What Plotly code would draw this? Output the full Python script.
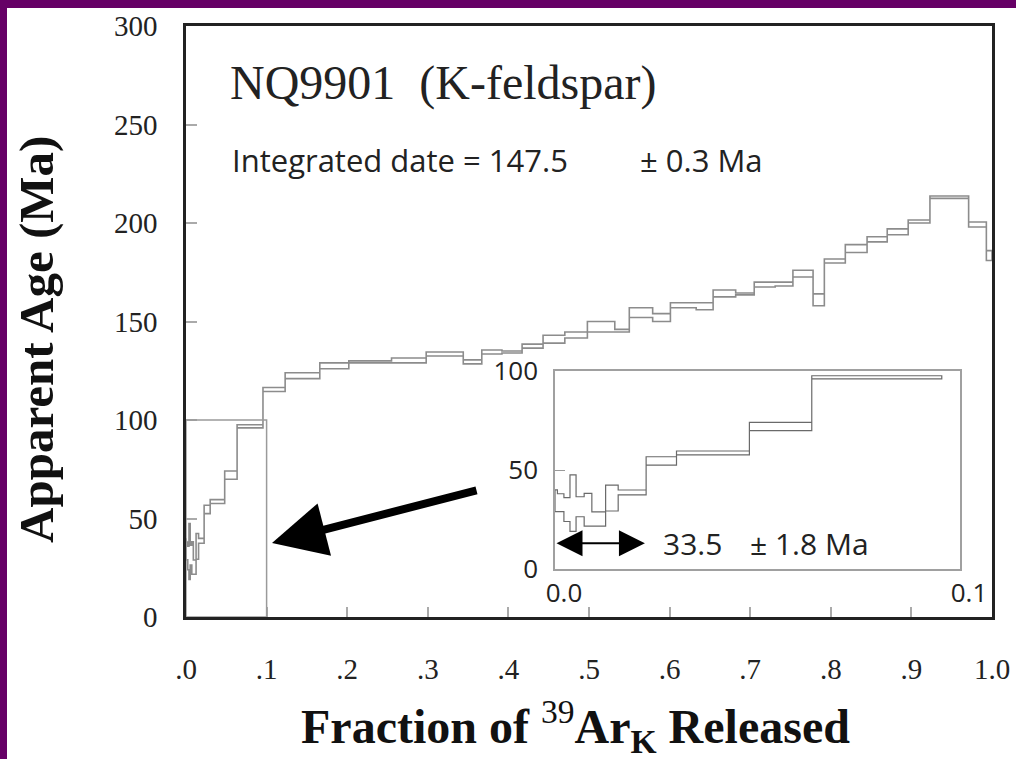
import plotly.graph_objects as go

# ---- data: step boundaries (cumulative 39Ar fraction), box bottoms and tops (Ma)
frac_edges = [0.0000, 0.0006, 0.0022, 0.0037, 0.0052, 0.0072, 0.0091, 0.0125, 0.0156,
              0.0225, 0.0300, 0.0480, 0.0634, 0.0955, 0.123, 0.166, 0.202, 0.255,
              0.298, 0.344, 0.367, 0.392, 0.417, 0.443, 0.470, 0.498, 0.532, 0.550,
              0.579, 0.601, 0.633, 0.654, 0.682, 0.705, 0.731, 0.753, 0.778, 0.792,
              0.818, 0.845, 0.870, 0.896, 0.923, 0.971, 0.993, 1.000]
age_lo = [29.0, 29.0, 24.0, 19.0, 26.4, 21.7, 21.7, 29.3, 37.4, 52.5, 57.6, 69.9, 96.0,
          114.5, 121.0, 126.0, 129.0, 129.0, 132.5, 128.5, 133.5, 134.0, 136.5, 139.0,
          141.6, 144.7, 144.7, 152.0, 150.0, 157.0, 156.0, 162.5, 163.5, 167.5, 168.0,
          172.6, 158.0, 179.7, 185.0, 190.4, 194.0, 200.0, 212.5, 198.0, 181.0]
age_hi = [40.0, 38.0, 36.0, 47.5, 36.5, 38.2, 28.9, 42.4, 39.9, 56.7, 59.6, 74.1, 97.6,
          116.5, 124.0, 129.0, 130.0, 131.5, 134.5, 130.5, 135.5, 135.0, 138.5, 143.0,
          144.7, 150.0, 146.0, 157.0, 154.0, 159.5, 159.5, 166.0, 164.5, 170.0, 170.0,
          176.0, 164.0, 181.7, 189.0, 193.0, 197.0, 201.5, 213.7, 200.5, 186.0]
n_inset = 13  # steps shown in the enlarged inset (fraction < 0.1)

main_yticks = [0, 50, 100, 150, 200, 250, 300]
main_xticks = [0.0, 0.1, 0.2, 0.3, 0.4, 0.5, 0.6, 0.7, 0.8, 0.9, 1.0]
main_xticktext = [".0", ".1", ".2", ".3", ".4", ".5", ".6", ".7", ".8", ".9", "1.0"]
inset_yticks = [0, 50, 100]
inset_xticks = [0.0, 0.1]
inset_xticktext = ["0.0", "0.1"]

integrated_age, integrated_err = 147.5, 0.3
plateau_age, plateau_err = 33.5, 1.8
plateau_range = [0.0, 0.0222]


def spectrum_path(edges, lo, hi):
    n = len(lo)
    xs, ys = [edges[0]], [lo[0]]
    for i in range(n):
        xs += [edges[i], edges[i + 1]]
        ys += [hi[i], hi[i]]
    for i in reversed(range(n)):
        xs += [edges[i + 1], edges[i]]
        ys += [lo[i], lo[i]]
    return xs, ys


SERIF = "Liberation Serif, Times New Roman, serif"
SANS = "Open Sans, Noto Sans, sans-serif"

# plot-area pixel geometry helpers for decorations
W, H = 1016, 759
L, R, T, B = 186, 992, 26, 617


def px(x):
    return (x - L) / (R - L)


def py(y):
    return (B - y) / (B - T)


fig = go.Figure()

mx, my = spectrum_path(frac_edges, age_lo, age_hi)
fig.add_trace(go.Scatter(x=mx, y=my, mode="lines", line=dict(color="#8c8c8c", width=1.6),
                         hoverinfo="skip", showlegend=False))

ix, iy = spectrum_path(frac_edges[:n_inset + 1], age_lo[:n_inset], age_hi[:n_inset])
fig.add_trace(go.Scatter(x=ix, y=iy, mode="lines", line=dict(color="#6a6a6a", width=1.2),
                         xaxis="x2", yaxis="y2", hoverinfo="skip", showlegend=False))

# zoom box in main plot
fig.add_shape(type="rect", x0=inset_xticks[0], x1=inset_xticks[1], y0=inset_yticks[0],
              y1=inset_yticks[-1], xref="x", yref="y", line=dict(color="#9a9a9a", width=1.5))

fig.update_layout(
    width=W, height=H,
    margin=dict(l=L, r=W - R, t=T, b=H - B, pad=0, autoexpand=False),
    paper_bgcolor="white", plot_bgcolor="white",
    xaxis=dict(range=[0, 1.0], tickvals=main_xticks, ticktext=main_xticktext,
               showgrid=False, zeroline=False, showline=True, mirror=True, automargin=False,
               linecolor="#222", linewidth=2.5, ticks="inside", ticklen=10,
               tickcolor="#aaa", tickwidth=1.5, ticklabelstandoff=24,
               tickfont=dict(family=SERIF, size=29, color="#222")),
    yaxis=dict(range=[0, 300], tickvals=main_yticks, automargin=False,
               showgrid=False, zeroline=False, showline=True, mirror=True,
               linecolor="#222", linewidth=2.5, ticks="inside", ticklen=11,
               tickcolor="#aaa", tickwidth=1.5, ticklabelstandoff=20,
               tickfont=dict(family=SERIF, size=29, color="#222")),
    xaxis2=dict(domain=[px(555), px(960)], anchor="y2", range=[0, 0.1], automargin=False,
                tickvals=inset_xticks, ticktext=inset_xticktext,
                showgrid=False, zeroline=False, showline=True, mirror=True,
                linecolor="#a0a0a0", linewidth=1.5, ticks="", ticklabelstandoff=0,
                ticklabelshift=9,
                tickfont=dict(family=SANS, size=26, color="#222")),
    yaxis2=dict(domain=[py(569), py(371)], anchor="x2", range=[0, 100], automargin=False,
                tickvals=inset_yticks,
                showgrid=False, zeroline=False, showline=True, mirror=True,
                linecolor="#a0a0a0", linewidth=1.5, ticks="inside", ticklen=10,
                tickcolor="#999", tickwidth=1.2, ticklabelstandoff=10,
                tickfont=dict(family=SANS, size=26, color="#222")),
    showlegend=False,
)

# purple frame stripes (top and left)
PURPLE = "#660066"
fig.add_shape(type="rect", xref="paper", yref="paper", x0=px(-2), x1=px(W + 2), y0=py(8), y1=py(-2),
              fillcolor=PURPLE, line=dict(width=0), layer="above")
fig.add_shape(type="rect", xref="paper", yref="paper", x0=px(-2), x1=px(7), y0=py(H + 2), y1=py(-2),
              fillcolor=PURPLE, line=dict(width=0), layer="above")

# texts
fig.add_annotation(text="NQ9901  (K-feldspar)", xref="paper", yref="paper", x=px(228), y=py(83),
                   xanchor="left", yanchor="middle", showarrow=False,
                   font=dict(family=SERIF, size=48, color="#222"))
fig.add_annotation(text=f"Integrated date = {integrated_age}", xref="paper", yref="paper",
                   x=px(230), y=py(160), xanchor="left", yanchor="middle", showarrow=False,
                   font=dict(family=SANS, size=31, color="#222"))
fig.add_annotation(text=f"± {integrated_err} Ma", xref="paper", yref="paper",
                   x=px(638), y=py(160), xanchor="left", yanchor="middle", showarrow=False,
                   font=dict(family=SANS, size=31, color="#222"))
fig.add_annotation(text=f"{plateau_age}", xref="paper", yref="paper",
                   x=px(661), y=py(543), xanchor="left", yanchor="middle", showarrow=False,
                   font=dict(family=SANS, size=30, color="#222"))
fig.add_annotation(text=f"± {plateau_err} Ma", xref="paper", yref="paper",
                   x=px(748), y=py(543), xanchor="left", yanchor="middle", showarrow=False,
                   font=dict(family=SANS, size=30, color="#222"))

# axis titles
fig.add_annotation(text="Fraction of <span style='font-weight:normal'><sup>39</sup></span>Ar<sub>K</sub> Released",
                   xref="paper", yref="paper",
                   x=px(575), y=py(726), xanchor="center", yanchor="middle", showarrow=False,
                   font=dict(family=SERIF, size=48, color="#111", weight="bold"))
fig.add_annotation(text="Apparent Age (Ma)", xref="paper", yref="paper", textangle=-90,
                   x=px(36), y=py(340), xanchor="center", yanchor="middle", showarrow=False,
                   font=dict(family=SERIF, size=49, color="#111", weight="bold"))

# double arrow for plateau range (inset)
fig.add_annotation(x=plateau_range[1], y=13, ax=plateau_range[0], ay=13,
                   xref="x2", yref="y2", axref="x2", ayref="y2", text="",
                   showarrow=True, arrowhead=2, startarrowhead=2, arrowside="end+start",
                   arrowsize=2.6, startarrowsize=2.6, arrowwidth=2, arrowcolor="black")

# big arrow pointing to the zoom box
fig.add_annotation(x=px(272), y=py(543), ax=px(478), ay=py(490),
                   xref="x domain", yref="y domain", axref="x domain", ayref="y domain", text="",
                   showarrow=True, arrowhead=2, arrowsize=1.35, arrowwidth=8, arrowcolor="black")

fig.write_html("out.html")
